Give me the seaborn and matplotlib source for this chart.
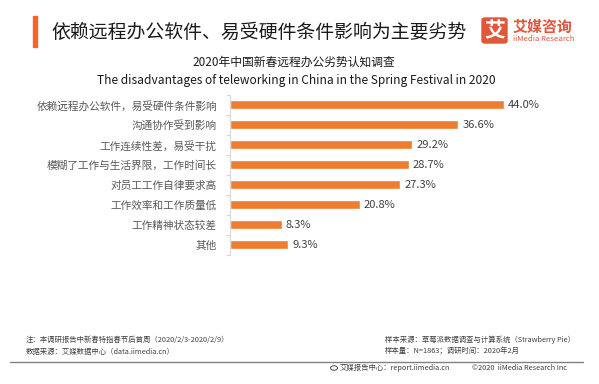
import matplotlib
matplotlib.use("Agg")
import matplotlib.pyplot as plt
import seaborn as sns
import pandas as pd
from matplotlib.patches import FancyBboxPatch, Rectangle, Circle
from matplotlib.lines import Line2D

categories = ["依赖远程办公软件，易受硬件条件影响", "沟通协作受到影响", "工作连续性差，易受干扰",
              "模糊了工作与生活界限，工作时间长", "对员工工作自律要求高", "工作效率和工作质量低",
              "工作精神状态较差", "其他"]
values = [44.0, 36.6, 29.2, 28.7, 27.3, 20.8, 8.3, 9.3]

title = "依赖远程办公软件、易受硬件条件影响为主要劣势"
subtitle_cn = "2020年中国新春远程办公劣势认知调查"
subtitle_en = "The disadvantages of teleworking in China in the Spring Festival in 2020"

sns.set_theme(style="white")
plt.rcParams['font.family'] = ['Noto Sans CJK SC', 'DejaVu Sans']

df = pd.DataFrame({"cat": categories, "val": values})

W, H = 599, 384
def fx(x):
    return x / W
def fy(y):
    return 1 - y / H

fig = plt.figure(figsize=(5.99, 3.84), dpi=100)
ax = fig.add_axes([0.384, 0.336, 0.52, 0.417])
sns.barplot(data=df, y="cat", x="val", orient="h", color="#ED7D31", width=0.45,
            saturation=1, ax=ax)
ax.set_xlim(0, 50)
ax.set_ylim(7.5, -0.5)
ax.set_xlabel("")
ax.set_ylabel("")
ax.set_xticks([])
for s in ["top", "right", "bottom"]:
    ax.spines[s].set_visible(False)
ax.spines["left"].set_color("#D9D9D9")
ax.spines["left"].set_linewidth(0.8)
ax.tick_params(axis="y", which="major", length=0, pad=9.5, labelsize=7.7, labelcolor="#595959")
ax.set_yticks(range(len(categories)), categories)
ax.set_yticks([i - 0.5 for i in range(len(categories) + 1)], minor=True)
ax.tick_params(axis="y", which="minor", length=3, color="#D9D9D9", width=0.8, left=True)
for c in ax.containers:
    ax.bar_label(c, fmt="%.1f%%", padding=3, fontsize=8, color="#404040")

# Title and accent
fig.patches.append(Rectangle((fx(32.5), fy(47)), 4.5 / W, 30.5 / H,
                             transform=fig.transFigure, color="#F26522", zorder=5))
fig.text(fx(51), fy(32), title, fontsize=13.6, color="#1a1a1a", va="center", ha="left")

# Logo
fig.patches.append(FancyBboxPatch((fx(482), fy(43)), 25 / W, 25 / H,
                                  boxstyle="round,pad=0,rounding_size=0.005",
                                  transform=fig.transFigure, color="#E0573A", zorder=5))
fig.text(fx(494.5), fy(30.5), "艾", fontsize=15, color="white", fontweight="bold",
         ha="center", va="center", zorder=6)
fig.text(fx(513), fy(26.7), "艾媒咨询", fontsize=10.8, color="#E0573A",
         ha="left", va="center", fontweight="bold")
fig.text(fx(513), fy(39.3), "iiMedia Research", fontsize=5.6, color="#E0573A",
         ha="left", va="center")

# Subtitles
fig.text(0.491, fy(62), subtitle_cn, fontsize=8.5, color="#1a1a1a", ha="center", va="center")
fig.text(0.495, fy(80.5), subtitle_en, fontsize=8.6, color="#1a1a1a", ha="center", va="center")

# Footer
fc = "#404040"
fig.text(fx(26), fy(340), "注：本调研报告中新春特指春节后首周（2020/2/3-2020/2/9）",
         fontsize=5.3, color=fc, va="center")
fig.text(fx(26), fy(351.7), "数据来源：艾媒数据中心（data.iimedia.cn）",
         fontsize=5.3, color=fc, va="center")
fig.text(fx(385), fy(340), "样本来源：草莓派数据调查与计算系统（Strawberry Pie）",
         fontsize=5.3, color=fc, va="center")
fig.text(fx(385), fy(351.7), "样本量：N=1863；调研时间：2020年2月",
         fontsize=5.3, color=fc, va="center")
fig.lines.append(Line2D([fx(10), fx(583)], [fy(362), fy(362)],
                        transform=fig.transFigure, color="#808080", linewidth=1))
fig.patches.append(Circle((fx(334), fy(368)), 3.5 / W, transform=fig.transFigure,
                          facecolor="none", edgecolor="#606060", linewidth=0.8))
fig.text(fx(340), fy(368), "艾媒报告中心：report.iimedia.cn",
         fontsize=5.3, color=fc, va="center")
fig.text(fx(472), fy(368), "©2020  iiMedia Research Inc",
         fontsize=5.3, color=fc, va="center")

fig.savefig("out.png", dpi=100)
